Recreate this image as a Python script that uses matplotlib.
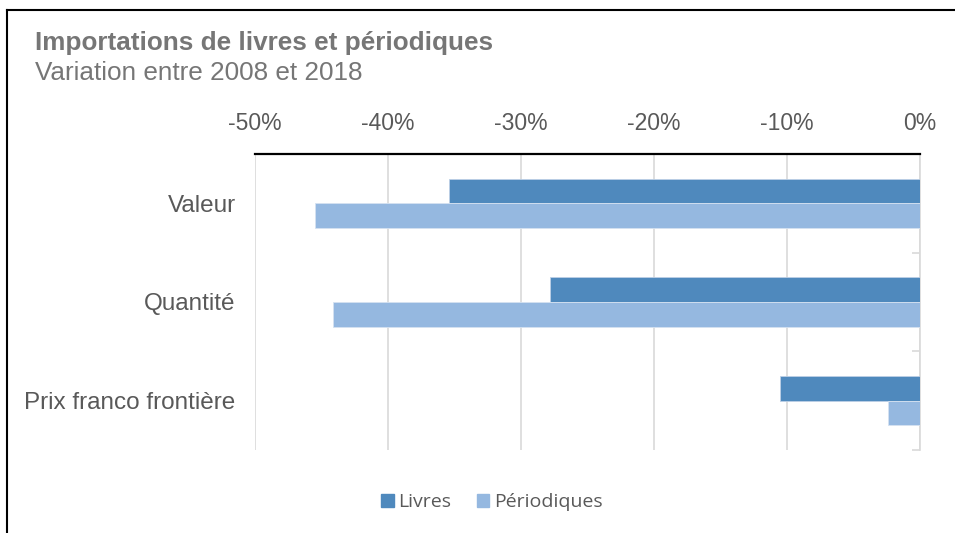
import matplotlib
matplotlib.use("Agg")
import matplotlib.pyplot as plt
import numpy as np
from matplotlib.lines import Line2D
from matplotlib.patches import Patch

# === Data (variation 2008-2018, %) ===
categories = ["Valeur", "Quantité", "Prix franco frontière"]
livres = [-35.4, -27.8, -10.5]
periodiques = [-45.5, -44.1, -2.4]
x_ticks = [-50, -40, -30, -20, -10, 0]

c_livres = "#4F89BD"
c_period = "#95B8E0"
grey_txt = "#595959"
grid_c = "#D9D9D9"

plt.rcParams["font.family"] = ["Liberation Sans", "DejaVu Sans"]

fig = plt.figure(figsize=(9.55, 5.33), dpi=100)
ax = fig.add_axes([0.267, 0.1557, 0.6963, 0.5554])

y = np.arange(len(categories))
h = 0.25
ax.barh(y - h / 2, livres, height=h, color=c_livres, edgecolor="#BDD0E6",
        linewidth=0.6, zorder=3)
ax.barh(y + h / 2, periodiques, height=h, color=c_period, edgecolor="#D5E2F1",
        linewidth=0.6, zorder=3)

ax.set_xlim(-50, 0)
ax.set_ylim(2.5, -0.5)

# x axis on top
ax.xaxis.tick_top()
ax.set_xticks(x_ticks)
ax.set_xticklabels([f"{v}%" for v in x_ticks])
ax.tick_params(axis="x", length=0, pad=14, labelsize=16.5, labelcolor=grey_txt)
ax.grid(axis="x", color=grid_c, linewidth=1.2, zorder=0)

# categories on the left, small boundary ticks on the right
ax.set_yticks(y)
ax.set_yticklabels(categories)
ax.tick_params(axis="y", which="major", length=0, pad=14, labelsize=17.5,
               labelcolor=grey_txt)
ax.set_yticks([0.5, 1.5, 2.5], minor=True)
ax.tick_params(axis="y", which="minor", left=False, right=True,
               direction="in", length=6, width=1.2, color=grid_c)

for side in ["left", "bottom"]:
    ax.spines[side].set_visible(False)
ax.spines["top"].set_color("black")
ax.spines["top"].set_linewidth(1.6)
ax.spines["right"].set_color(grid_c)
ax.spines["right"].set_linewidth(1.2)

# titles
fig.text(35 / 955, 1 - 43 / 533, "Importations de livres et périodiques",
         fontsize=18.8, fontweight="bold", color="#767676", va="center")
fig.text(35 / 955, 1 - 73 / 533, "Variation entre 2008 et 2018",
         fontsize=18.8, color="#767676", va="center")

# legend
handles = [Patch(color=c_livres, label="Livres"),
           Patch(color=c_period, label="Périodiques")]
fig.legend(handles=handles, loc="center", bbox_to_anchor=(0.515, 0.058),
           ncol=2, frameon=False, handlelength=0.65, handleheight=0.65,
           handletextpad=0.25, columnspacing=1.3,
           prop={"family": ["Open Sans", "DejaVu Sans"], "size": 14},
           labelcolor=grey_txt)

# outer frame (left and top edges)
fig.add_artist(Line2D([7 / 955, 7 / 955], [0, 1 - 10 / 533],
                      transform=fig.transFigure, color="black", linewidth=1.5))
fig.add_artist(Line2D([7 / 955, 1], [1 - 10 / 533, 1 - 10 / 533],
                      transform=fig.transFigure, color="black", linewidth=1.5))

fig.savefig("out.png", dpi=100)
